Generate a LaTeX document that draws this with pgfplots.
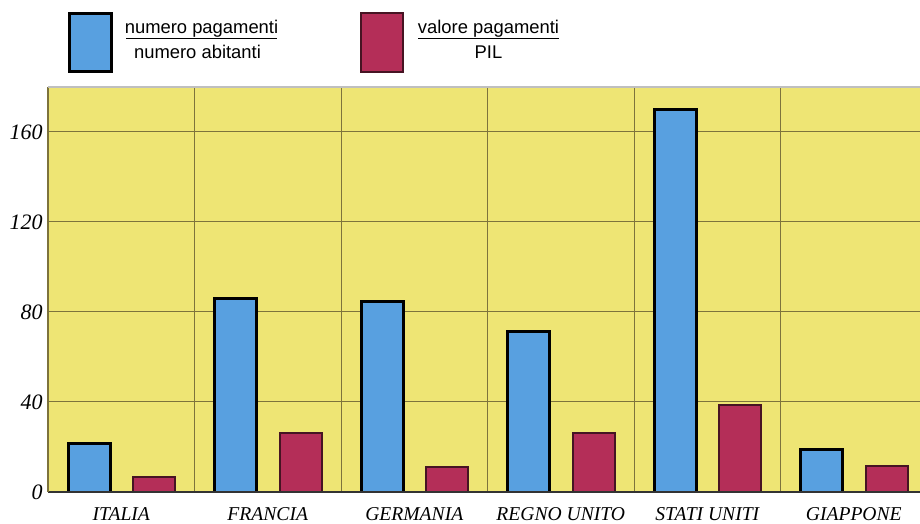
\documentclass[border=0pt]{standalone}
\usepackage{pgfplots}
\pgfplotsset{compat=1.18}
\usepackage{fontspec}
\setmainfont{Liberation Serif}
\newfontfamily\legendfont{Liberation Sans}
\definecolor{bgyellow}{RGB}{238,229,116}
\definecolor{barblue}{RGB}{88,160,224}
\definecolor{barred}{RGB}{180,46,88}
\definecolor{redline}{RGB}{70,20,35}
\definecolor{gridcol}{RGB}{125,115,60}
\begin{document}
\begin{tikzpicture}[x=0.75pt,y=0.75pt]
\useasboundingbox (0,0) rectangle (920,524);
\begin{axis}[
  at={(36pt,24pt)}, anchor=south west,
  scale only axis, width=654pt, height=303.75pt,
  xmin=-0.5, xmax=5.452, ymin=0, ymax=180,
  axis background/.style={fill=bgyellow},
  axis line style={draw=none},
  xtick={0,1,2,3,4,5},
  xticklabels={ITALIA,FRANCIA,GERMANIA,REGNO UNITO,STATI UNITI,GIAPPONE},
  minor xtick={0.5,1.5,2.5,3.5,4.5},
  ytick={0,40,80,120,160},
  xminorgrids, ymajorgrids,
  major tick length=0pt, minor tick length=0pt,
  grid style={draw=gridcol, line width=0.75pt},
  minor grid style={draw=gridcol, line width=0.75pt},
  /pgf/number format/assume math mode=true,
  yticklabel style={font=\fontsize{16.5}{18}\selectfont\itshape, anchor=east, inner sep=0pt, xshift=-3.75pt},
  xticklabel style={font=\fontsize{14.7}{16}\selectfont\itshape, anchor=base, inner sep=0pt, yshift=-21.4pt},
  clip=false,
]
\addplot[ybar, bar width=31.5pt, bar shift=-24pt, fill=barblue, draw=black, line width=2.2pt]
  coordinates {(0,21.5) (1,86) (2,84.6) (3,71.5) (4,170) (5,19)};
\addplot[ybar, bar width=31.5pt, bar shift=24.75pt, fill=barred, draw=redline, line width=1.5pt]
  coordinates {(0,6.5) (1,26) (2,11) (3,26) (4,38.5) (5,11.5)};
\draw[draw=black!80, line width=1pt] (rel axis cs:0,0) -- (rel axis cs:1,0);
\draw[draw=gridcol, line width=0.9pt] (rel axis cs:0,0) -- (rel axis cs:0,1);
\draw[draw=black!25, line width=0.8pt] (rel axis cs:0,1) -- (rel axis cs:1,1);
\end{axis}
% legend
\fill[barblue] (69.5,510.5) rectangle (111.5,452.5);
\draw[black, line width=2.2pt] (69.5,510.5) rectangle (111.5,452.5);
\node[anchor=base, inner sep=0pt, font=\legendfont\fontsize{13.8}{15}\selectfont] at (201.5,490.5) {numero pagamenti};
\draw[black, line width=0.75pt] (126,485.5) -- (277,485.5);
\node[anchor=base, inner sep=0pt, font=\legendfont\fontsize{13.8}{15}\selectfont] at (197.5,465) {numero abitanti};
\fill[barred] (361,511) rectangle (403,452);
\draw[redline, line width=1.5pt] (361,511) rectangle (403,452);
\node[anchor=base, inner sep=0pt, font=\legendfont\fontsize{13.8}{15}\selectfont] at (488.5,490.5) {valore pagamenti};
\draw[black, line width=0.75pt] (418,485.5) -- (559,485.5);
\node[anchor=base, inner sep=0pt, font=\legendfont\fontsize{13.8}{15}\selectfont] at (488.5,465) {PIL};
\end{tikzpicture}
\end{document}
